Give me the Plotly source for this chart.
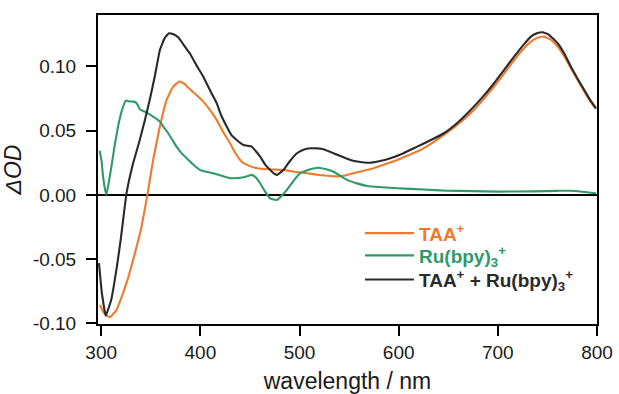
import plotly.graph_objects as go

# TAA+ + Ru(bpy)3+ (black)
wl_sum = [297.8, 300.5, 304.6, 310, 316, 320, 325.5, 332, 339, 344, 349, 354, 359.2, 364, 368.3,
          373, 377.7, 383, 389.5, 396, 403, 410, 416.5, 421, 426.6, 431, 436.7, 443.4, 451.9,
          456, 460.3, 465, 470.4, 474, 477.2, 480, 483.9, 490, 497.4, 504, 510.9, 518, 524.3,
          531, 541.2, 551.3, 560, 569.8, 580, 591.7, 605, 618.7, 632, 645.6, 659, 672.6,
          685, 696.2, 706, 716.4, 725, 733.3, 740, 745.1, 751, 760.3, 767, 773.7, 780, 787.2, 793, 799]
od_sum = [-0.053, -0.075, -0.094, -0.082, -0.055, -0.033, 0.001, 0.024, 0.043, 0.058, 0.074, 0.092, 0.1128, 0.122, 0.1258,
          0.125, 0.1227, 0.117, 0.110, 0.101, 0.092, 0.081, 0.0714, 0.062, 0.0532, 0.047, 0.0428, 0.0389, 0.0376,
          0.034, 0.0298, 0.024, 0.0195, 0.0168, 0.0156, 0.017, 0.0195, 0.026, 0.0324, 0.0352, 0.0363, 0.0362, 0.0356,
          0.0335, 0.0303, 0.0272, 0.0258, 0.0250, 0.0262, 0.0286, 0.0325, 0.0376, 0.0425, 0.048, 0.056, 0.0661,
          0.0765, 0.0869, 0.097, 0.1076, 0.116, 0.1232, 0.126, 0.1266, 0.125, 0.118, 0.110, 0.0998, 0.091, 0.0817, 0.074, 0.0675]

# TAA+ (orange)
wl_taa = [298.6, 303, 308.6, 315, 322, 327, 332.2, 336.5, 340.7, 346.3, 352.4, 359.2, 366, 372.6, 378.7,
          384, 389.5, 396, 403, 410, 416.5, 423, 430, 435, 440.1, 444, 448.6, 455, 463.6, 473, 483.9,
          495, 507.5, 520, 531, 541.2, 551.3, 563, 574.9, 586, 598.5, 610, 622.1, 634, 645.6, 659,
          672.6, 685, 696.2, 706, 716.4, 725, 733.3, 740, 746.2, 753, 760.3, 767, 773.7, 780, 787.2, 793, 799]
od_taa = [-0.0856, -0.092, -0.0952, -0.090, -0.0765, -0.065, -0.0506, -0.038, -0.0247, -0.0013, 0.0272, 0.0532, 0.074, 0.0843, 0.0882,
          0.0865, 0.0822, 0.0778, 0.0726, 0.0658, 0.0584, 0.049, 0.0402, 0.033, 0.0272, 0.0245, 0.0228, 0.0212, 0.0202, 0.0198, 0.0195,
          0.018, 0.0169, 0.0155, 0.0148, 0.0145, 0.0163, 0.0185, 0.0208, 0.0238, 0.0272, 0.031, 0.035, 0.0405, 0.0467, 0.0545,
          0.0636, 0.074, 0.0843, 0.094, 0.105, 0.113, 0.1193, 0.1222, 0.1232, 0.121, 0.1154, 0.108, 0.0986, 0.090, 0.0804, 0.073, 0.0667]

# Ru(bpy)3+ (green)
wl_ru = [298.5, 300.5, 301.9, 303.5, 305.3, 307.5, 310.3, 313.5, 317, 321, 324.8, 328.5, 332.2, 334.5, 337.2, 339,
         344, 352.4, 359.2, 363, 367.6, 372, 376, 381, 386.2, 393, 399.6, 406, 413.1, 421, 430, 437, 443.4,
         448, 451.9, 456, 460.3, 465, 470.4, 474, 477.2, 481, 487.3, 494, 500.7, 510, 519.2, 527, 534.4,
         541, 547.9, 558, 568.2, 583, 598.5, 625, 649.1, 675, 699.6, 735, 760, 773.7, 785, 799]
od_ru = [0.0345, 0.026, 0.0142, 0.006, 0.0, 0.009, 0.022, 0.038, 0.0532, 0.066, 0.0734, 0.0728, 0.0726, 0.0722, 0.0695, 0.0665,
         0.0648, 0.0609, 0.057, 0.0528, 0.048, 0.0425, 0.0376, 0.0325, 0.0286, 0.0235, 0.0195, 0.018, 0.0169, 0.015, 0.013, 0.0132, 0.0138,
         0.0148, 0.0156, 0.0135, 0.0091, 0.003, -0.0026, -0.0036, -0.0039, -0.0015, 0.0039, 0.011, 0.0169, 0.0198, 0.0212, 0.0200, 0.0181,
         0.0150, 0.0117, 0.0090, 0.007, 0.006, 0.0052, 0.0042, 0.0033, 0.0030, 0.0026, 0.0028, 0.0032, 0.0033, 0.0025, 0.0013]

x_ticks = [300, 400, 500, 600, 700, 800]
y_ticks = [-0.10, -0.05, 0.00, 0.05, 0.10]
y_tick_text = ["-0.10", "-0.05", "0.00", "0.05", "0.10"]

C_TAA = "#F07A2C"
C_RU = "#2E9A68"
C_SUM = "#2A2A2A"

line_shape = dict(width=2.1, shape="spline", smoothing=0.3)

fig = go.Figure()
fig.add_trace(go.Scatter(x=wl_taa, y=od_taa, mode="lines", line=dict(color=C_TAA, **line_shape), legend="legend",
                         name='<b><span style="color:%s">TAA<sup>+</sup></span></b>' % C_TAA))
fig.add_trace(go.Scatter(x=wl_ru, y=od_ru, mode="lines", line=dict(color=C_RU, **line_shape), legend="legend2",
                         name='<b><span style="color:%s">Ru(bpy)<sub>3</sub><sup>+</sup></span></b>' % C_RU))
fig.add_trace(go.Scatter(x=wl_sum, y=od_sum, mode="lines", line=dict(color=C_SUM, **line_shape), legend="legend3",
                         name='<b><span style="color:%s">TAA<sup>+</sup> + Ru(bpy)<sub>3</sub><sup>+</sup></span></b>' % C_SUM))

font_family = "Liberation Sans, Arial, sans-serif"
leg_common = dict(x=0.525, xanchor="left", yanchor="top", bgcolor="rgba(0,0,0,0)",
                  font=dict(size=19, family=font_family), itemwidth=49)
fig.update_layout(
    width=619, height=394,
    margin=dict(l=98, r=22, t=15, b=70),
    paper_bgcolor="white", plot_bgcolor="white",
    font=dict(family=font_family, size=19, color="#1a1a1a"),
    showlegend=True,
    legend=dict(y=0.355, **leg_common),
    legend2=dict(y=0.283, **leg_common),
    legend3=dict(y=0.205, **leg_common),
    xaxis=dict(range=[296.8, 800], tickvals=x_ticks, ticks="outside", ticklen=10, tickwidth=2, tickcolor="black",
               showline=True, linecolor="black", linewidth=2, mirror=True, showgrid=False, zeroline=False,
               ticklabelstandoff=0, automargin=False,
               title=dict(text="wavelength / nm", standoff=20), tickfont=dict(size=19)),
    yaxis=dict(range=[-0.1004, 0.140], tickvals=y_ticks, ticktext=y_tick_text, ticks="outside", ticklen=10,
               tickwidth=2, tickcolor="black", automargin=False,
               showline=True, linecolor="black", linewidth=2, mirror=True, showgrid=False,
               zeroline=True, zerolinecolor="black", zerolinewidth=1.5,
               ticklabelstandoff=6,
               title=dict(text="<i>ΔOD</i>", standoff=10), tickfont=dict(size=19)),
)

fig.write_html("out.html")
